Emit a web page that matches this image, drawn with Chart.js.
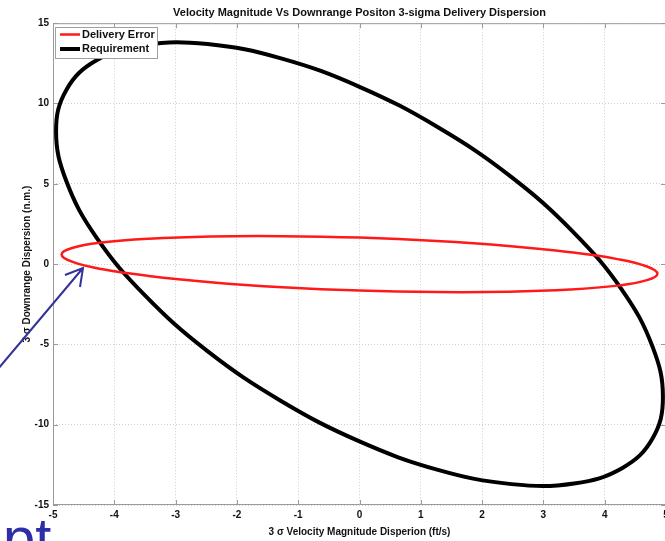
<!DOCTYPE html>
<html>
<head>
<meta charset="utf-8">
<script src="https://cdn.jsdelivr.net/npm/chart.js@4/dist/chart.umd.min.js"></script>
<style>
  html, body { margin: 0; padding: 0; background: #fff; overflow: hidden; }
  #wrap { width: 680px; height: 541px; }
</style>
</head>
<body>
<div id="wrap"><canvas id="disp-chart" width="680" height="541"></canvas></div>
<script>
// points, going round each ellipse
var reqX = [4.95, 4.78, 4.29, 3.50, 2.48, 1.28, 0, -1.28, -2.48, -3.50, -4.29, -4.78,
            -4.95, -4.78, -4.29, -3.50, -2.48, -1.28, 0, 1.28, 2.48, 3.50, 4.29, 4.78];
var reqY = [-8.28, -5.14, -1.65, 1.95, 5.42, 8.52, 11.04, 12.81, 13.70, 13.66, 12.69, 10.86,
            8.28, 5.14, 1.65, -1.95, -5.42, -8.52, -11.04, -12.81, -13.70, -13.66, -12.69, -10.86];
var errX = [4.86, 4.69, 4.21, 3.44, 2.43, 1.26, 0, -1.26, -2.43, -3.44, -4.21, -4.69,
            -4.86, -4.69, -4.21, -3.44, -2.43, -1.26, 0, 1.26, 2.43, 3.44, 4.21, 4.69];
var errY = [-0.60, -0.15, 0.31, 0.74, 1.13, 1.44, 1.65, 1.74, 1.72, 1.58, 1.34, 1.00,
            0.60, 0.15, -0.31, -0.74, -1.13, -1.44, -1.65, -1.74, -1.72, -1.58, -1.34, -1.00];
var xTicks = [-5, -4, -3, -2, -1, 0, 1, 2, 3, 4, 5];
var yTicks = [-15, -10, -5, 0, 5, 10, 15];

// closed loop: one point of overlap on each side so every drawn piece is smooth
function loop(xs, ys) {
  var n = xs.length, out = [];
  for (var i = -1; i <= n + 1; i++) {
    var k = (i + n) % n;
    out.push({ x: xs[k], y: ys[k] });
  }
  return out;
}
function hideEnds(color) {
  return function (c) {
    var last = c.chart.data.datasets[c.datasetIndex].data.length - 2;
    return (c.p0DataIndex === 0 || c.p0DataIndex === last) ? 'rgba(0,0,0,0)' : color;
  };
}

var FONT = '"Liberation Sans", Arial, sans-serif';

// box, inner tick marks, legend and the slide's arrow / text
var decor = {
  id: 'decor',
  afterDraw: function (chart) {
    var ctx = chart.ctx;
    var a = chart.chartArea;
    var xs = chart.scales.x, ys = chart.scales.y;
    ctx.save();
    ctx.strokeStyle = '#9a9a9a';
    ctx.lineWidth = 1;
    ctx.beginPath();
    ctx.rect(a.left + 0.5, a.top + 0.5, a.right - a.left - 1, a.bottom - a.top - 1);
    xTicks.forEach(function (v) {
      var px = Math.round(xs.getPixelForValue(v)) + 0.5;
      ctx.moveTo(px, a.bottom); ctx.lineTo(px, a.bottom - 5);
      ctx.moveTo(px, a.top); ctx.lineTo(px, a.top + 5);
    });
    yTicks.forEach(function (v) {
      var py = Math.round(ys.getPixelForValue(v)) + 0.5;
      ctx.moveTo(a.left, py); ctx.lineTo(a.left + 5, py);
      ctx.moveTo(a.right, py); ctx.lineTo(a.right - 5, py);
    });
    ctx.stroke();

    // legend
    var bx = 55, by = 27, bw = 102, bh = 31;
    ctx.fillStyle = '#fff';
    ctx.fillRect(bx, by, bw, bh);
    ctx.strokeStyle = '#a0a0a0';
    ctx.strokeRect(bx + 0.5, by + 0.5, bw, bh);
    ctx.beginPath();
    ctx.rect(bx, by, bw - 2, bh);
    ctx.clip();
    var items = chart.data.datasets;
    var rowY = [34.5, 49];
    items.forEach(function (ds, i) {
      ctx.strokeStyle = ds.lineColor;
      ctx.lineWidth = ds.borderWidth;
      ctx.beginPath();
      ctx.moveTo(60, rowY[i]); ctx.lineTo(80, rowY[i]);
      ctx.stroke();
      ctx.fillStyle = '#111';
      ctx.font = 'bold 11px ' + FONT;
      ctx.textBaseline = 'middle';
      ctx.fillText(ds.label, 82, rowY[i]);
    });
    ctx.restore();

    // arrow from the slide
    ctx.save();
    ctx.strokeStyle = '#32329a';
    ctx.lineWidth = 2;
    ctx.beginPath();
    ctx.moveTo(-2, 369); ctx.lineTo(83, 268);
    ctx.moveTo(65, 275); ctx.lineTo(83, 268); ctx.lineTo(80, 287);
    ctx.stroke();
    ctx.fillStyle = '#2e2ea8';
    ctx.font = '58px ' + FONT;
    ctx.textBaseline = 'alphabetic';
    ctx.fillText('pt', 3, 558);
    ctx.restore();
  }
};

var context = document.getElementById('disp-chart').getContext('2d');
var chart = new Chart(context, {
  type: 'scatter',
  data: {
    datasets: [
      {
        label: 'Delivery Error',
        data: loop(errX, errY),
        showLine: true,
        lineColor: '#ff1a1a',
        borderColor: '#ff1a1a',
        segment: { borderColor: hideEnds('#ff1a1a') },
        borderWidth: 2.5,
        borderCapStyle: 'round',
        pointRadius: 0,
        tension: 0.4,
      },
      {
        label: 'Requirement',
        data: loop(reqX, reqY),
        showLine: true,
        lineColor: '#000000',
        borderColor: '#000000',
        segment: { borderColor: hideEnds('#000000') },
        borderWidth: 4,
        borderCapStyle: 'round',
        pointRadius: 0,
        tension: 0.4,
      }
    ],
  },
  options: {
    responsive: false,
    animation: false,
    layout: { padding: { left: 0, right: 14, top: 0, bottom: 0 } },
    plugins: {
      legend: { display: false },
      tooltip: { enabled: false },
      title: {
        display: true,
        fullSize: false,
        text: 'Velocity Magnitude Vs Downrange Positon 3-sigma Delivery Dispersion',
        color: '#111',
        font: { family: FONT, size: 11, weight: 'bold' },
        padding: { top: 6, bottom: 4 },
      },
    },
    scales: {
      x: {
        type: 'linear',
        min: -5,
        max: 5,
        afterBuildTicks: function (s) { s.ticks = xTicks.map(function (v) { return { value: v }; }); },
        afterFit: function (s) { s.height = 36; },
        grid: { color: '#cfcfcf', drawTicks: false },
        border: { display: false, dash: [1, 2] },
        ticks: {
          padding: 4,
          color: '#111',
          font: { family: FONT, size: 10, weight: 'bold' },
          callback: function (v) { return v; },
        },
        title: {
          display: true,
          text: '3 σ Velocity Magnitude Disperion (ft/s)',
          color: '#111',
          font: { family: FONT, size: 10, weight: 'bold' },
          padding: { top: 0, bottom: 3 },
        },
      },
      y: {
        type: 'linear',
        min: -15,
        max: 15,
        afterBuildTicks: function (s) { s.ticks = yTicks.map(function (v) { return { value: v }; }); },
        afterFit: function (s) { s.width = 53; },
        grid: { color: '#cfcfcf', drawTicks: false },
        border: { display: false, dash: [1, 2] },
        ticks: {
          padding: 4,
          color: '#111',
          font: { family: FONT, size: 10, weight: 'bold' },
          callback: function (v) { return v; },
        },
        title: {
          display: true,
          text: '3 σ Downrange Dispersion (n.m.)',
          color: '#111',
          font: { family: FONT, size: 10, weight: 'bold' },
          padding: { top: 21, bottom: 0 },
        },
      }
    },
  },
  plugins: [decor]
});
</script>
</body>
</html>
